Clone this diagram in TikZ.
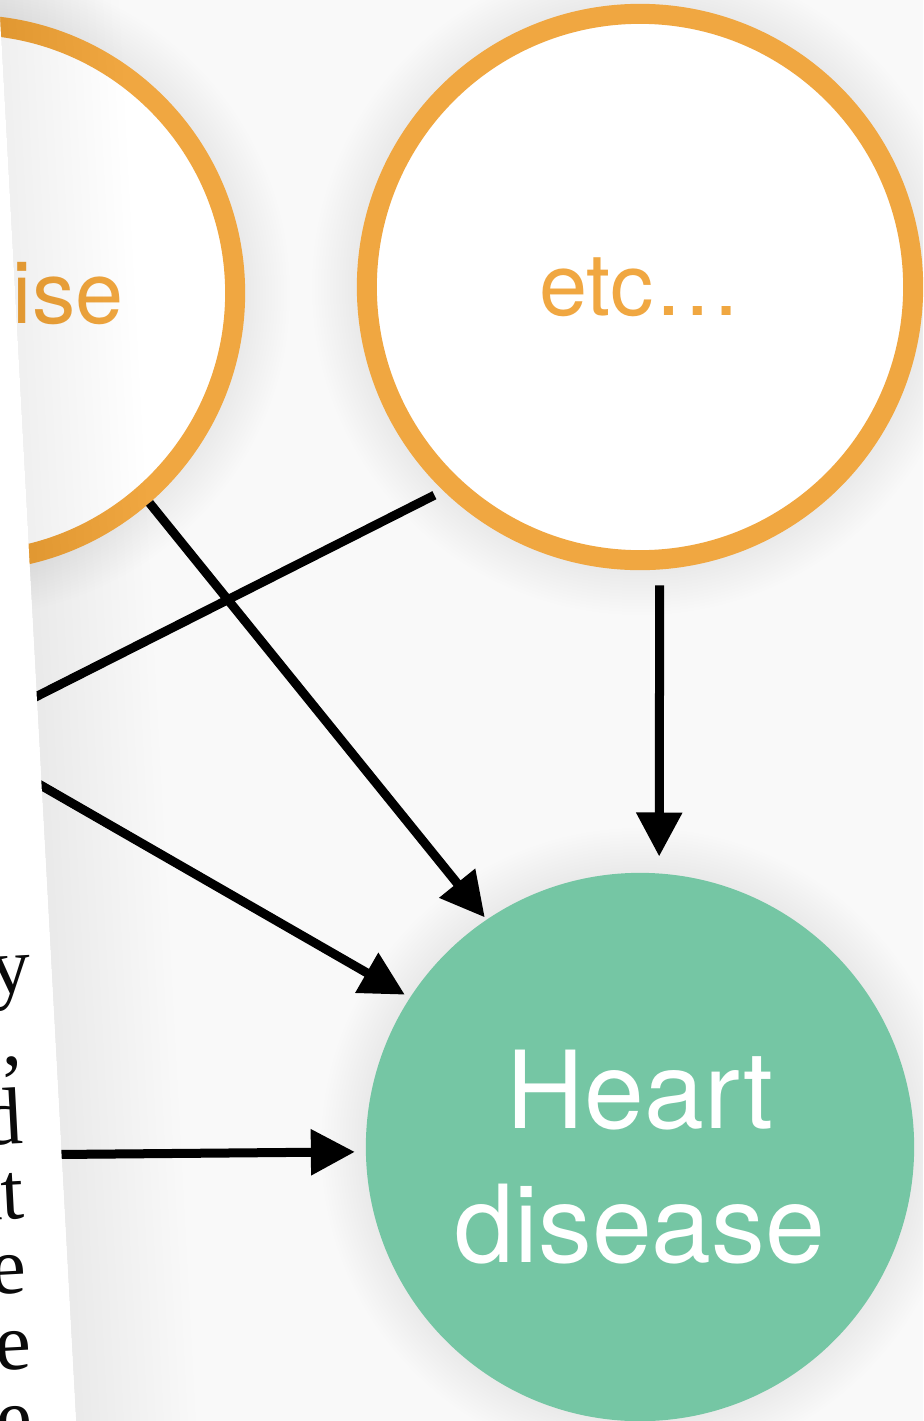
\documentclass[tikz,border=0pt]{standalone}
\usepackage{fontspec}
\setmainfont{TeX Gyre Heros}
\newfontfamily\pagefont{Liberation Serif}
\usetikzlibrary{arrows.meta}

\definecolor{bgc}{HTML}{F9F9F9}
\definecolor{orng}{HTML}{F0A741}
\definecolor{mint}{HTML}{75C6A4}
\definecolor{ink}{HTML}{0A0A0A}

\tikzset{
  factor/.style={circle, draw=orng, line width=0.2cm, fill=white, inner sep=0pt,
    text=orng, font=\fontsize{24.6}{29}\selectfont},
  factorlabel/.style={text=orng, inner sep=0pt, font=\fontsize{24.6}{29}\selectfont},
  outcome/.style={circle, fill=mint, inner sep=0pt, outer sep=0pt, minimum size=5.48cm},
  outlabel/.style={text=white, align=center, inner sep=0pt,
    font=\fontsize{30.6}{38.1}\selectfont},
  link/.style={line width=0.09cm, draw=black},
  arr/.style={link, -{Triangle[length=0.44cm, width=0.44cm]}},
  halo/.style={fill=black, opacity=0.003},
  pageline/.style={anchor=base east, inner sep=0pt, rotate=3, text=ink,
    font=\pagefont\fontsize{23}{27}\selectfont}
}

\begin{document}
\begin{tikzpicture}[x=0.01cm, y=-0.01cm]
  \useasboundingbox (0,0) rectangle (923,1421);
  \clip (0,0) rectangle (923,1421);
  \fill[bgc] (0,0) rectangle (923,1421);

  % soft shadows under the three circles
  \foreach \r in {3,6,...,45} {
    \fill[halo] (-33,293) circle[radius=278+\r];
    \fill[halo] (640,287) circle[radius=283+\r];
    \fill[halo] (640,1147) circle[radius=274+\r];
  }

  % causes and outcome
  \node[factor, minimum size=5.36cm] (ex) at (-33,293) {};
  \node[factorlabel] (exlabel) at (-41,293) {Exercise};
  \node[factor, minimum size=5.46cm] (etc) at (640,287) {etc…};
  \node[outcome] (hd) at (640,1147) {};
  \node[outlabel] (hdlabel) at (640,1157) {Heart\\disease};

  % free ends that run under the sheet of paper
  \coordinate (bEnd) at (-10,720);
  \coordinate (cStart) at (-10,756);
  \coordinate (dStart) at (0,1155);

  % connectors
  \draw[arr, shorten >=0.03cm] (ex.-49.8) -- (hd.124.3);
  \draw[link, shorten <=0.10cm] (etc.226.1) -- (bEnd);
  \draw[arr, shorten >=0.06cm] (cStart) -- (hd.147.4);
  \draw[arr, shorten >=0.11cm] (dStart) -- (hd.181.6);
  \draw[arr, shorten <=0.16cm, shorten >=0.17cm] (etc.-86.2) -- (hd.86.1);

  % shadow cast by the sheet of paper
  \foreach \w in {8,16,...,120} {
    \fill[black, opacity=0.004] (-1,0) -- (76,1421) -- (76+\w,1421) -- (-1+\w,0) -- cycle;
  }
  % the sheet of paper lying on top
  \fill[white] (-200,-10) -- (-1.5,-10) -- (76.5,1431) -- (-200,1431) -- cycle;

  % ends of the text lines printed on the sheet
  \node[pageline] (l1) at (4,766) {end.};
  \node[pageline] (l2) at (33,992) {by};
  \node[pageline] (l3) at (23,1064) {es,};
  \node[pageline] (l4) at (25,1143) {and};
  \node[pageline] (l5) at (26,1218) {that};
  \node[pageline] (l6) at (28,1293) {the};
  \node[pageline] (l7) at (33,1369) {are};
  \node[pageline] (l8) at (34,1444) {the};
\end{tikzpicture}
\end{document}
